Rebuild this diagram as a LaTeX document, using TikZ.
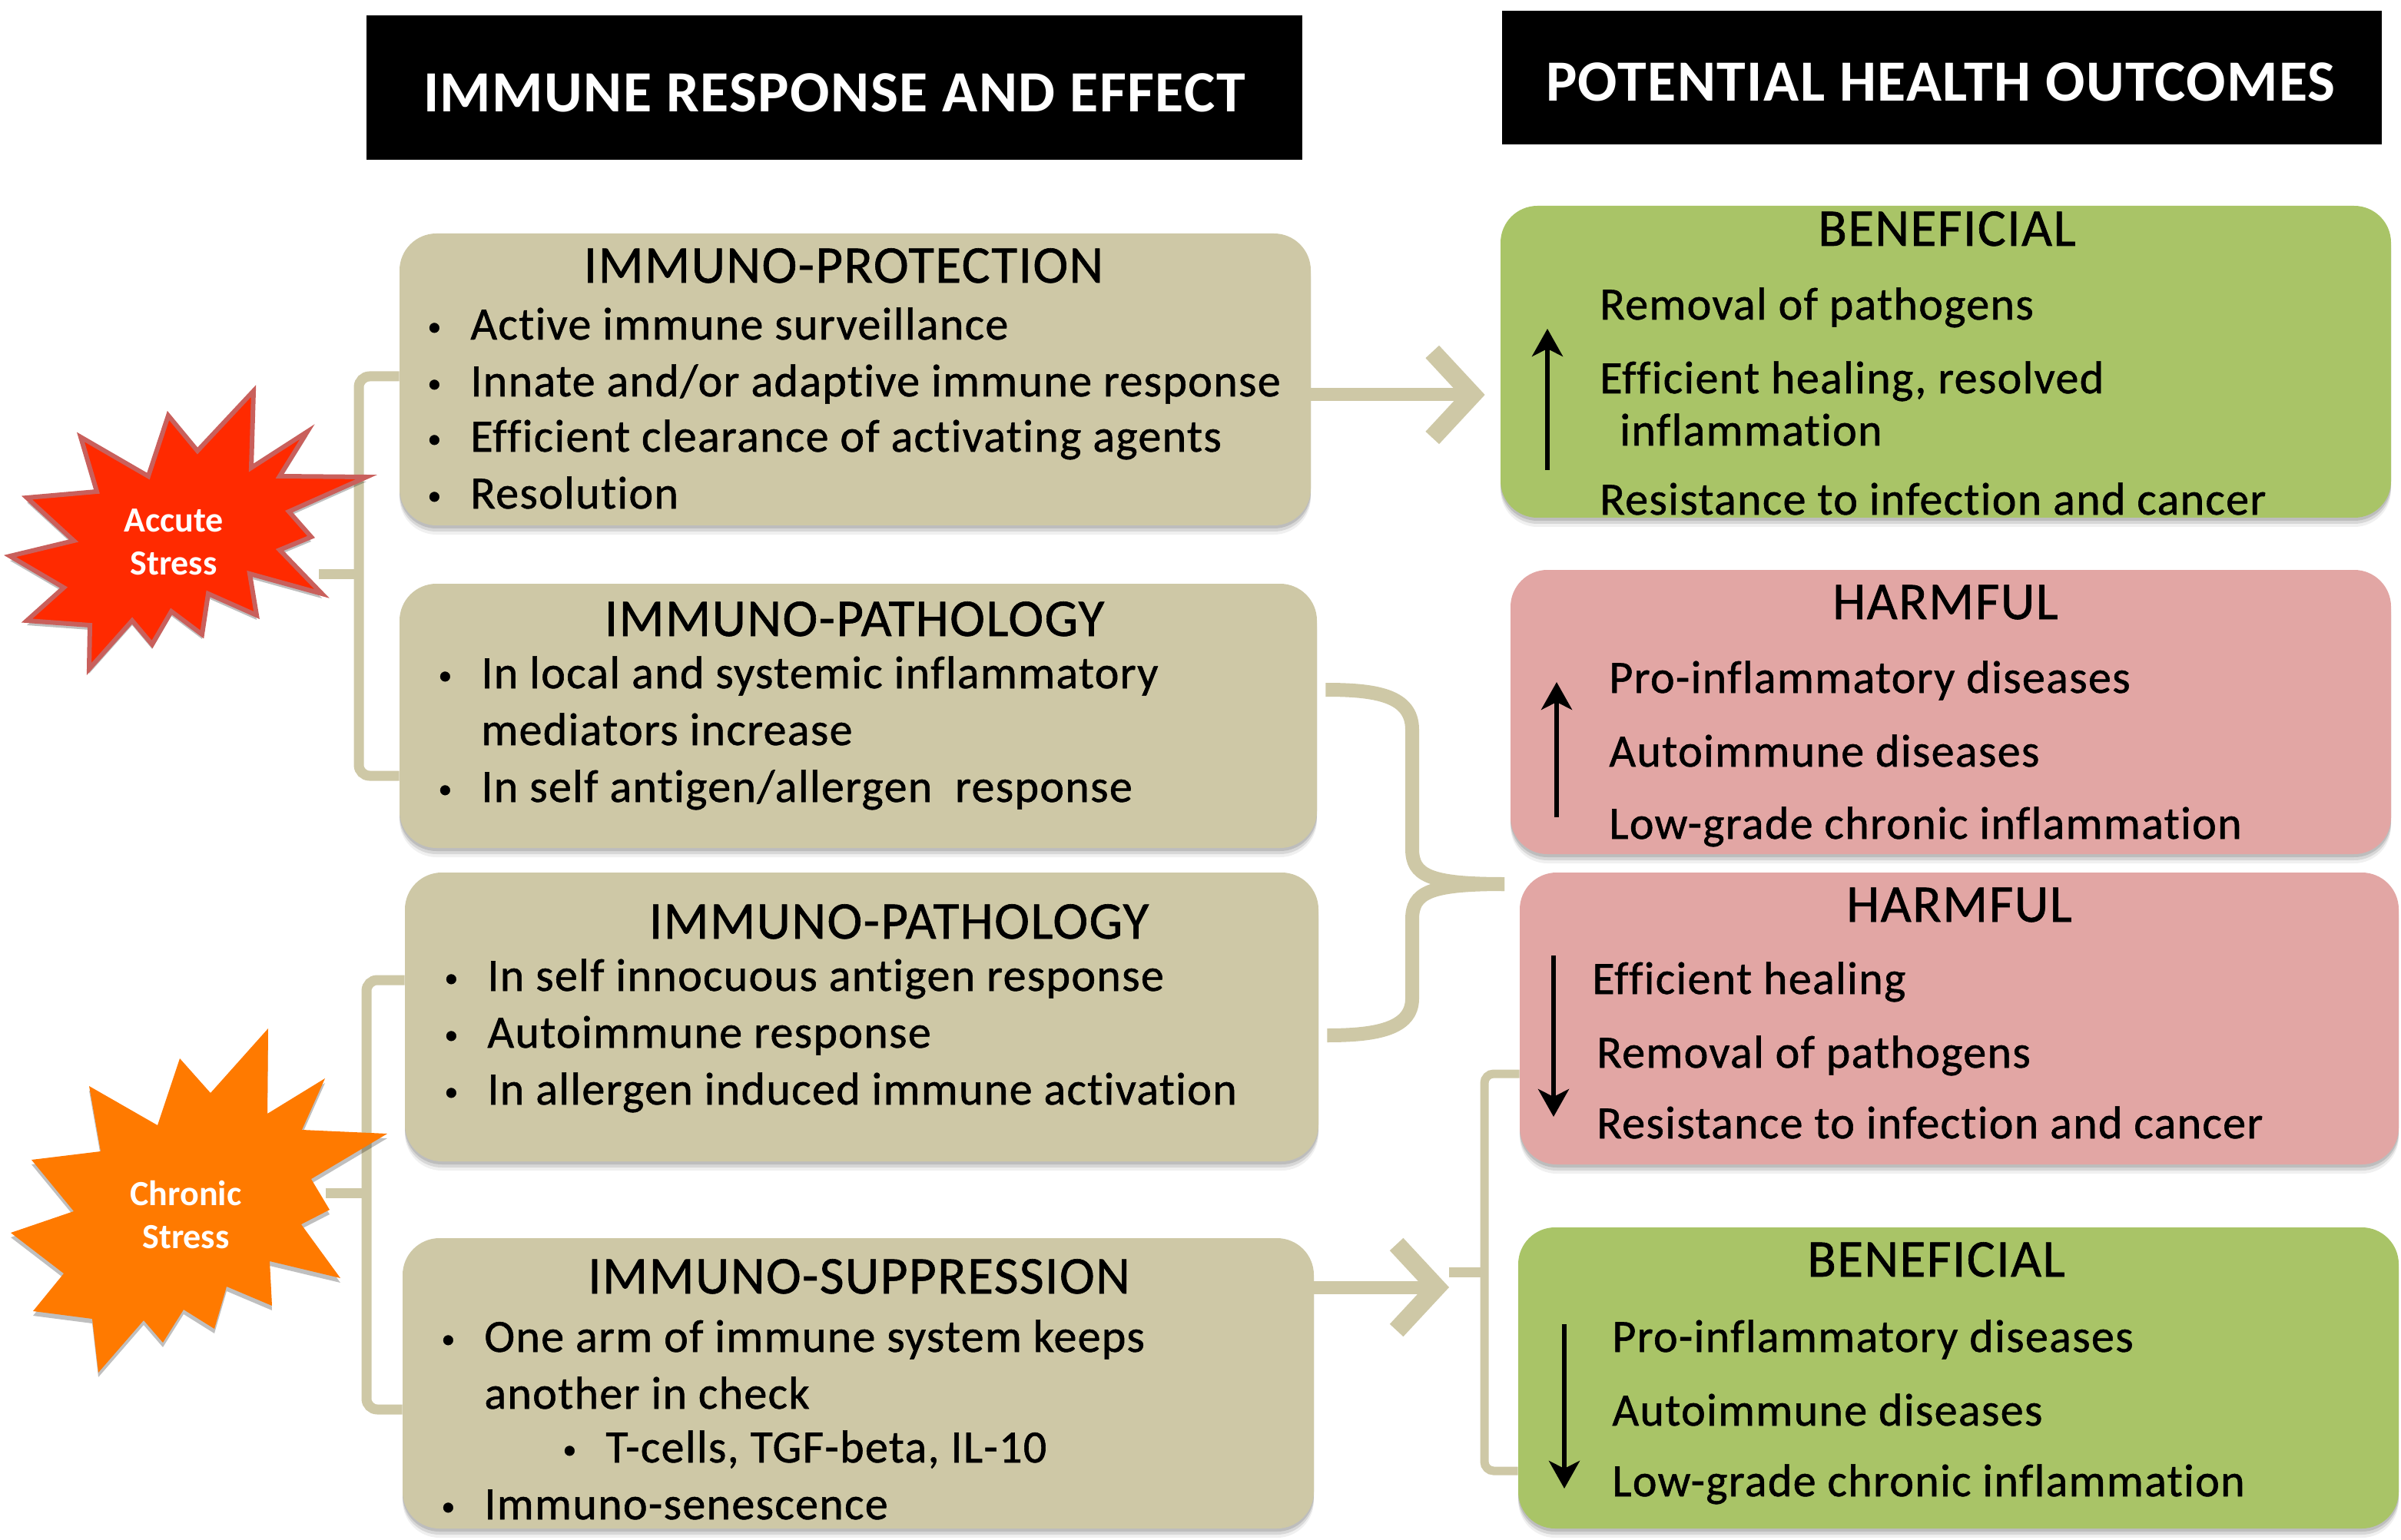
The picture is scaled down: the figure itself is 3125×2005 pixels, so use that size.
\documentclass[tikz,border=0pt]{standalone}
\usepackage{fontspec}
\setmainfont{Carlito}[FakeBold=0.9,LetterSpace=2.2,Ligatures=NoCommon]
\newfontfamily\hdfont{Carlito Bold}[LetterSpace=2,Ligatures=NoCommon]
\newfontfamily\stfont{Carlito Bold}[Ligatures=NoCommon]
\usetikzlibrary{arrows.meta,shadows}
\definecolor{tanc}{HTML}{CEC8A6}
\definecolor{greenc}{HTML}{A9C467}
\definecolor{pinkc}{HTML}{E2A6A4}
\definecolor{redc}{HTML}{FF2A00}
\definecolor{redb}{HTML}{C9605C}
\definecolor{orangec}{HTML}{FF7A00}
\newcounter{tcnt}
\newcommand{\RB}[6]{\node[panel,fill=#6,minimum width={(#4-#2)*0.5pt},minimum height={(#5-#3)*0.5pt}] (#1) at ({(#2+#4)/2},{(#3+#5)/2}) {};}
\newcommand{\HB}[5]{\node[header,minimum width={(#4-#2)*0.5pt},minimum height={(#5-#3)*0.5pt}] (#1) at ({(#2+#4)/2},{(#3+#5)/2}) {};}
\newcommand{\Ttl}[3]{\stepcounter{tcnt}\node[ttl] (t\thetcnt) at (#1,#2) {#3};}
\newcommand{\Ln}[3]{\stepcounter{tcnt}\node[ln] (t\thetcnt) at (#1,#2) {#3};}
\newcommand{\Bl}[3]{\stepcounter{tcnt}\node[ln] (t\thetcnt) at (#1,#2) {\makebox[28pt][l]{\raisebox{2.5pt}{\fontsize{18}{18}\selectfont •}}#3};}
\tikzset{
  x=0.5pt,y=-0.5pt,
  softshadow/.style={drop shadow={shadow xshift=0pt,shadow yshift=-2pt,opacity=0.12,fill=black},drop shadow={shadow xshift=0pt,shadow yshift=-4pt,opacity=0.10,fill=black},drop shadow={shadow xshift=0pt,shadow yshift=-6pt,opacity=0.06,fill=black}},
  panel/.style={draw=none,rounded corners=24pt,inner sep=0pt,softshadow},
  header/.style={fill=black,draw=none,inner sep=0pt},
  ttl/.style={anchor=base,inner sep=0pt,font=\fontsize{34.5}{40}\selectfont},
  ln/.style={anchor=base west,inner sep=0pt,font=\fontsize{30}{36}\selectfont},
  hdr/.style={anchor=base,inner sep=0pt,text=white,font=\hdfont\fontsize{38}{44}\selectfont},
  starlabel/.style={text=white,align=center,inner sep=0pt,font=\stfont\fontsize{23}{28}\selectfont},
  brack/.style={draw=tanc,line width=6.5pt,rounded corners=7pt,line cap=butt},
  brackw/.style={draw=tanc,line width=9pt},
  bigarr/.style={draw=tanc,line width=8.5pt,-{Straight Barb[length=26pt,width=56pt,line width=12pt]}},
  updn/.style={draw=black,line width=3pt,-{Stealth[length=18pt,width=20pt,inset=5pt]}},
}
\begin{document}
\begin{tikzpicture}
\useasboundingbox (0,0) rectangle (3125,2005);
\fill[white] (0,0) rectangle (3125,2005);
% headers
\HB{h1}{477}{20}{1695}{208}
\HB{h2}{1955}{14}{3100}{188}
\stepcounter{tcnt}\node[hdr] (t\thetcnt) at (1086,146) {IMMUNE RESPONSE AND EFFECT};
\stepcounter{tcnt}\node[hdr] (t\thetcnt) at (2526,132) {POTENTIAL HEALTH OUTCOMES};
% coordinates
\coordinate (b1c) at (467,747);
\coordinate (b1s) at (415,747);
\coordinate (b2c) at (477,1553);
\coordinate (b2s) at (424,1553);
\coordinate (b3s) at (1958,1151);
\coordinate (b4s) at (1886,1656);
\coordinate (b4c) at (1932,1656);
% panels
\RB{tan1}{520}{304}{1706}{684}{tanc}
\RB{tan2}{520}{760}{1714}{1104}{tanc}
\RB{tan3}{527}{1136}{1716}{1512}{tanc}
\RB{tan4}{524}{1612}{1710}{1990}{tanc}
\RB{green1}{1953}{268}{3112}{674}{greenc}
\RB{pink1}{1966}{742}{3112}{1112}{pinkc}
\RB{pink2}{1978}{1136}{3122}{1516}{pinkc}
\RB{green2}{1976}{1598}{3122}{1990}{greenc}
% brackets
\draw[brack] ([yshift=2pt]tan1.west) -- (467,490) -- (467,1010) -- ([yshift=-39pt]tan2.west);
\draw[brack] ([yshift=24pt]tan3.west) -- (477,1276) -- (477,1835) -- ([yshift=-17pt]tan4.west);
\draw[brackw] ([xshift=5.5pt]tan2.east |- 0,898) .. controls (1790,898) and (1838,905) .. (1838,950) -- (1838,1105) .. controls (1838,1140) and (1860,1151) .. (b3s);
\draw[brackw] ([xshift=5.5pt]tan3.east |- 0,1348) .. controls (1790,1348) and (1838,1340) .. (1838,1300) -- (1838,1197) .. controls (1838,1162) and (1860,1151) .. (b3s);
\draw[draw=tanc,line width=5.5pt,rounded corners=6pt] (pink2.west |- 0,1398) -- (1932,1398) -- (1932,1915) -- (green2.west |- 0,1915);
\draw[brack] (b4s) -- (b4c);
% stars
\draw[fill=redc,draw=redb,line width=3pt,line join=miter,drop shadow={shadow xshift=0pt,shadow yshift=-3pt,opacity=0.25,fill=black}]
 (330,509)--(327,609)--(400,562)--(364,620)--(477,621)--(376,666)--(405,699)--(364,716)--(419,773)--(325,747)--(334,801)--(271,773)--(263,826)--(223,796)--(198,839)--(172,808)--(116,871)--(117,814)--(35,808)--(83,765)--(13,724)--(96,704)--(35,648)--(126,640)--(105,569)--(193,620)--(219,541)--(257,587)--cycle;
\draw[fill=orangec,draw=none,drop shadow={shadow xshift=0pt,shadow yshift=-3pt,opacity=0.25,fill=black}]
 (349,1339)--(348,1450)--(423,1404)--(393,1471)--(504,1476)--(405,1535)--(429,1575)--(392,1594)--(443,1664)--(351,1642)--(354,1700)--(295,1675)--(279,1730)--(239,1705)--(212,1748)--(187,1719)--(128,1787)--(120,1717)--(43,1707)--(83,1658)--(14,1605)--(96,1577)--(41,1510)--(131,1499)--(116,1414)--(205,1465)--(234,1378)--(274,1423)--cycle;
\node[starlabel] (star1) at (226,706) {Accute\\Stress};
\node[starlabel] (star2) at (242,1582) {Chronic\\Stress};
\draw[brack,rounded corners=0pt] (b1s) -- (b1c);
\draw[brack,rounded corners=0pt] (b2s) -- (b2c);
% big arrows
\draw[bigarr] ([yshift=-10pt]tan1.east) -- ([xshift=-10pt,yshift=-21.5pt]green1.west);
\draw[bigarr] (tan4.east |- 0,1676) -- (b4s |- 0,1676);
% up/down arrows
\coordinate (a1) at (2014,612);
\coordinate (a1e) at (2014,428);
\coordinate (a2) at (2026,1064);
\coordinate (a2e) at (2026,888);
\coordinate (a3) at (2022,1244);
\coordinate (a3e) at (2022,1454);
\coordinate (a4) at (2036,1724);
\coordinate (a4e) at (2036,1938);
\draw[updn] (a1) -- (a1e);
\draw[updn] (a2) -- (a2e);
\draw[updn] (a3) -- (a3e);
\draw[updn] (a4) -- (a4e);
% tan1
\Ttl{1098}{368}{IMMUNO-PROTECTION}
\Bl{556}{442}{Active immune surveillance}
\Bl{556}{516}{Innate and/or adaptive immune response}
\Bl{556}{588}{Efficient clearance of activating agents}
\Bl{556}{662}{Resolution}
% tan2
\Ttl{1112}{828}{IMMUNO-PATHOLOGY}
\Bl{570}{896}{In local and systemic inflammatory}
\Ln{626}{970}{mediators increase}
\Bl{570}{1044}{In self antigen/allergen\ \ response}
% tan3
\Ttl{1170}{1222}{IMMUNO-PATHOLOGY}
\Bl{578}{1290}{In self innocuous antigen response}
\Bl{578}{1364}{Autoimmune response}
\Bl{578}{1438}{In allergen induced immune activation}
% tan4
\Ttl{1118}{1684}{IMMUNO-SUPPRESSION}
\Bl{574}{1760}{One arm of immune system keeps}
\Ln{630}{1834}{another in check}
\Bl{732}{1904}{T-cells, TGF-beta, IL-10}
\Bl{574}{1978}{Immuno-senescence}
% green1
\Ttl{2534}{320}{BENEFICIAL}
\Ln{2082}{416}{Removal of pathogens}
\Ln{2082}{512}{Efficient healing, resolved}
\Ln{2108}{580}{inflammation}
\Ln{2082}{670}{Resistance to infection and cancer}
% pink1
\Ttl{2532}{806}{HARMFUL}
\Ln{2094}{902}{Pro-inflammatory diseases}
\Ln{2094}{998}{Autoimmune diseases}
\Ln{2094}{1092}{Low-grade chronic inflammation}
% pink2
\Ttl{2550}{1200}{HARMFUL}
\Ln{2072}{1294}{Efficient healing}
\Ln{2078}{1390}{Removal of pathogens}
\Ln{2078}{1482}{Resistance to infection and cancer}
% green2
\Ttl{2520}{1662}{BENEFICIAL}
\Ln{2098}{1760}{Pro-inflammatory diseases}
\Ln{2098}{1856}{Autoimmune diseases}
\Ln{2098}{1948}{Low-grade chronic inflammation}
\end{tikzpicture}
\end{document}
